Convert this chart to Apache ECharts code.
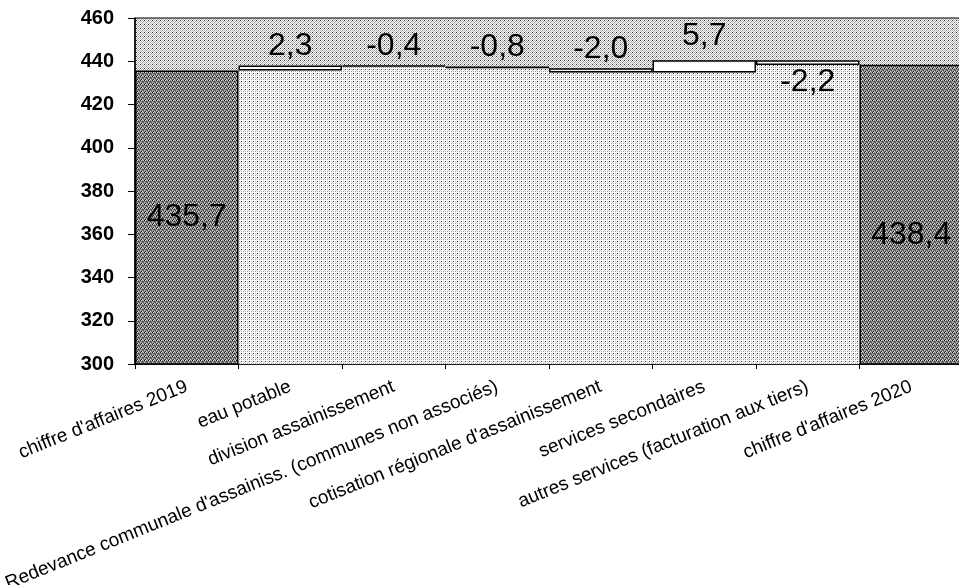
<!DOCTYPE html>
<html><head><meta charset="utf-8">
<script src="https://cdn.jsdelivr.net/npm/echarts@6/dist/echarts.min.js"></script>
<style>html,body{margin:0;padding:0;background:#fff}#c{width:959px;height:585px}</style>
</head><body><div id="c"></div>
<script>
const categories = [
  "chiffre d'affaires 2019",
  "eau potable",
  "division assainissement",
  "Redevance communale d'assainiss. (communes non associés)",
  "cotisation régionale d'assainissement",
  "services secondaires",
  "autres services (facturation aux tiers)",
  "chiffre d'affaires 2020"
];
const startValue = 435.7;
const deltas = [2.3, -0.4, -0.8, -2.0, 5.7, -2.2];
const endValue = 438.4;
const yMin = 300, yMax = 460, yInterval = 20;

function makePattern(size, bg, dots) {
  const c = document.createElement('canvas');
  c.width = c.height = size;
  const g = c.getContext('2d');
  g.fillStyle = bg; g.fillRect(0, 0, size, size);
  dots.forEach(([x, y, col]) => { g.fillStyle = col; g.fillRect(x, y, 1, 1); });
  return { image: c, repeat: 'repeat' };
}
const bgPat = makePattern(4, '#ffffff', [[0,0,'#333'],[2,0,'#aaa'],[1,1,'#b4b4b4'],[3,1,'#a0a0a0'],[2,2,'#888'],[0,2,'#b0b0b0'],[1,3,'#aaa'],[3,3,'#bbb']]);
const lowPat = makePattern(4, '#ffffff', [[1,1,'#333'],[3,3,'#999'],[3,1,'#b8b8b8'],[1,3,'#b0b0b0'],[0,2,'#c8c8c8']]);
const darkPat = makePattern(4, '#808080', [[0,0,'#111'],[2,1,'#333'],[1,3,'#222'],[3,2,'#444'],[1,0,'#ddd'],[3,0,'#bbb'],[0,2,'#ccc'],[2,3,'#e0e0e0']]);

const fmt = v => String(v.toFixed(1)).replace('.', ',');
const labelDist = [3, 3, 3, 3, 8, 1];

// waterfall computation
const baseData = ['-'], boxData = ['-'];
let cum = startValue;
deltas.forEach((d, i) => {
  const next = +(cum + d).toFixed(2);
  baseData.push(+Math.min(cum, next).toFixed(2));
  boxData.push({
    value: Math.abs(d),
    label: {
      show: true,
      position: i === deltas.length - 1 ? 'bottom' : 'top',
      distance: labelDist[i],
      formatter: () => fmt(d)
    }
  });
  cum = next;
});
baseData.push('-'); boxData.push('-');
const totalData = categories.map((c, i) => i === 0 ? startValue : (i === categories.length - 1 ? {value: endValue, label: {offset: [0, 20]}} : '-'));

const chart = echarts.init(document.getElementById('c'), null, {renderer: 'canvas'});
chart.setOption({
  animation: false,
  backgroundColor: '#fff',
  grid: {left: 135, top: 18, right: -4, bottom: 221, show: true, backgroundColor: bgPat, borderColor: '#000', borderWidth: 1, containLabel: false, outerBoundsMode: 'none'},
  xAxis: {
    type: 'category',
    data: categories,
    boundaryGap: true,
    axisLine: {lineStyle: {color: '#000', width: 1.5}},
    axisTick: {show: true, length: 5, lineStyle: {color: '#000'}},
    axisLabel: {interval: 0, rotate: 22, color: '#000', fontSize: 19, fontFamily: 'Liberation Sans, Arial', margin: 22, hideOverlap: false}
  },
  yAxis: {
    type: 'value', min: yMin, max: yMax, interval: yInterval,
    splitLine: {show: false},
    axisLine: {show: true, lineStyle: {color: '#000', width: 1.5}},
    axisTick: {show: true, length: 7, lineStyle: {color: '#000'}},
    axisLabel: {color: '#000', fontSize: 20, fontWeight: 'bold', fontFamily: 'Liberation Sans, Arial', margin: 21}
  },
  series: [
    {
      type: 'bar', stack: 'w', data: baseData, barCategoryGap: '0%',
      itemStyle: {color: lowPat, borderWidth: 0},
      silent: true
    },
    {
      type: 'bar', stack: 'w', data: boxData, barCategoryGap: '0%',
      itemStyle: {color: '#fff', borderColor: '#000', borderWidth: 1.5},
      label: {color: '#000', fontSize: 32, fontFamily: 'Liberation Sans, Arial'}
    },
    {
      type: 'bar', stack: 't', data: totalData, barCategoryGap: '0%', barGap: '-100%',
      itemStyle: {color: darkPat, borderColor: '#000', borderWidth: 1.5},
      label: {show: true, position: 'inside', color: '#000', fontSize: 32, fontFamily: 'Liberation Sans, Arial', formatter: p => fmt(p.value)}
    }
  ]
});
</script></body></html>
